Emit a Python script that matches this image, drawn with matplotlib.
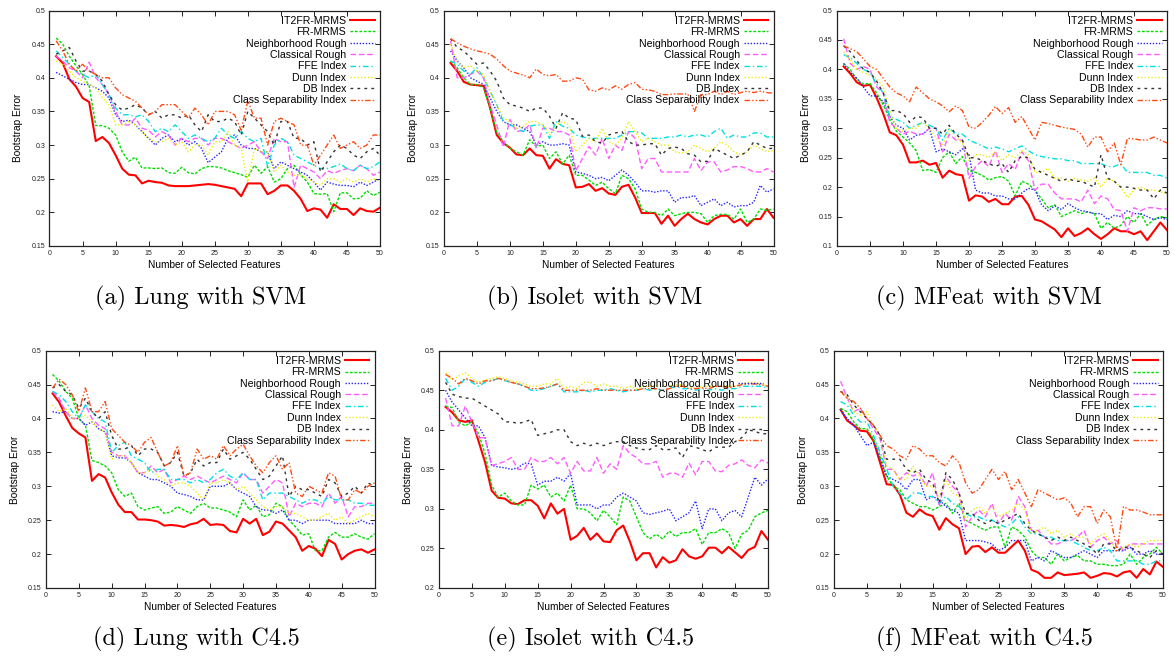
import matplotlib
matplotlib.use("Agg")
import matplotlib.pyplot as plt
from matplotlib.ticker import MultipleLocator, FormatStrFormatter

W, H = 1175, 657

FEATURES = list(range(1, 51))
METHODS = ["IT2FR-MRMS", "FR-MRMS", "Neighborhood Rough", "Classical Rough",
           "FFE Index", "Dunn Index", "DB Index", "Class Separability Index"]

# (a) Lung with SVM
A_IT2FR = [.432, .422, .398, .387, .370, .364, .306, .312, .303, .285, .265, .256, .255, .243, .247, .245, .244, .240, .239, .239,
           .239, .240, .241, .242, .241, .239, .237, .235, .224, .243, .243, .243, .227, .232, .240, .240, .232, .220, .202, .206,
           .204, .192, .212, .205, .205, .196, .206, .202, .201, .207]
A_FR = [.459, .450, .432, .418, .405, .388, .329, .329, .325, .315, .290, .276, .282, .266, .266, .265, .266, .259, .258, .267,
        .259, .257, .265, .268, .268, .266, .262, .259, .256, .252, .270, .258, .268, .245, .250, .265, .270, .256, .245, .228,
        .227, .228, .201, .229, .229, .220, .221, .232, .225, .230]
A_NR = [.408, .403, .398, .393, .390, .390, .385, .380, .370, .345, .335, .337, .330, .320, .310, .300, .310, .315, .305, .310,
        .300, .305, .295, .274, .282, .290, .310, .315, .300, .295, .295, .290, .290, .265, .275, .270, .265, .260, .255, .245,
        .233, .245, .242, .240, .240, .238, .245, .240, .245, .250]
A_CR = [.432, .425, .415, .410, .400, .423, .400, .390, .375, .350, .330, .330, .340, .325, .322, .312, .320, .315, .300, .310,
        .305, .310, .310, .300, .310, .310, .305, .300, .295, .300, .305, .290, .280, .310, .305, .305, .237, .270, .265, .260,
        .250, .262, .258, .262, .265, .262, .270, .265, .255, .260]
A_FFE = [.440, .430, .420, .410, .405, .400, .405, .390, .375, .355, .345, .345, .342, .345, .335, .320, .325, .320, .330, .320,
         .310, .315, .310, .305, .310, .325, .315, .310, .320, .310, .305, .310, .268, .300, .310, .305, .285, .280, .275, .270,
         .265, .265, .268, .272, .265, .262, .270, .265, .268, .275]
A_DUNN = [.425, .420, .410, .400, .395, .390, .385, .370, .360, .330, .330, .335, .330, .320, .310, .305, .305, .310, .300, .305,
          .290, .300, .300, .285, .305, .305, .320, .300, .295, .245, .295, .290, .290, .260, .270, .260, .255, .255, .250, .245,
          .240, .250, .250, .245, .250, .245, .250, .245, .250, .245]
A_DB = [.435, .440, .445, .425, .410, .410, .405, .395, .375, .360, .352, .355, .360, .355, .345, .350, .340, .345, .345, .340,
        .345, .330, .320, .345, .335, .335, .340, .335, .315, .350, .340, .330, .320, .300, .335, .335, .310, .310, .300, .305,
        .260, .275, .290, .300, .295, .285, .280, .290, .295, .285]
A_CSI = [.455, .440, .420, .410, .420, .410, .405, .400, .400, .385, .375, .370, .365, .355, .345, .350, .360, .360, .360, .350,
         .340, .355, .345, .330, .350, .350, .350, .345, .322, .366, .340, .340, .300, .335, .340, .335, .330, .300, .300, .270,
         .285, .300, .315, .295, .300, .305, .295, .300, .315, .315]

# (b) Isolet with SVM
B_IT2FR = [.422, .410, .394, .390, .389, .388, .355, .315, .303, .296, .286, .285, .295, .285, .284, .265, .279, .272, .270, .237,
           .238, .242, .232, .236, .228, .226, .238, .241, .222, .199, .199, .199, .183, .195, .180, .190, .198, .190, .185, .182,
           .190, .195, .195, .185, .190, .180, .190, .190, .205, .192]
B_FR = [.425, .415, .400, .390, .390, .385, .355, .320, .305, .295, .290, .285, .308, .298, .300, .280, .290, .272, .285, .255,
        .255, .248, .240, .245, .235, .228, .255, .250, .235, .205, .200, .200, .195, .205, .195, .198, .200, .200, .198, .185,
        .195, .197, .197, .190, .205, .185, .190, .205, .203, .205]
B_NR = [.440, .425, .415, .400, .395, .390, .370, .350, .335, .330, .330, .325, .320, .300, .305, .300, .300, .302, .300, .260,
        .258, .255, .250, .252, .247, .255, .263, .255, .245, .232, .232, .230, .232, .232, .215, .222, .222, .225, .210, .215,
        .220, .210, .215, .208, .210, .210, .215, .240, .230, .235]
B_CR = [.455, .400, .400, .405, .410, .400, .360, .330, .297, .338, .320, .322, .330, .295, .325, .325, .320, .320, .315, .262,
        .280, .298, .285, .310, .280, .300, .292, .320, .310, .265, .280, .280, .260, .260, .260, .260, .260, .280, .262, .275,
        .275, .260, .263, .268, .268, .265, .260, .260, .265, .260]
B_FFE = [.425, .420, .410, .405, .415, .400, .380, .360, .335, .330, .325, .320, .328, .330, .330, .310, .335, .328, .325, .315,
         .312, .310, .310, .310, .310, .310, .315, .320, .320, .318, .310, .310, .310, .312, .312, .315, .312, .315, .315, .312,
         .320, .325, .310, .315, .312, .312, .318, .318, .312, .312]
B_DUNN = [.450, .425, .415, .418, .410, .405, .380, .360, .340, .335, .325, .328, .335, .335, .330, .315, .330, .335, .330, .290,
          .300, .310, .305, .325, .305, .300, .310, .335, .320, .305, .310, .305, .300, .300, .290, .288, .290, .300, .295, .290,
          .295, .305, .300, .290, .285, .290, .300, .295, .290, .292]
B_DB = [.458, .445, .440, .430, .420, .422, .410, .395, .370, .360, .358, .355, .350, .355, .355, .343, .325, .348, .340, .338,
        .313, .315, .305, .303, .315, .318, .320, .305, .300, .300, .302, .302, .285, .295, .297, .295, .287, .285, .275, .276,
        .295, .290, .285, .280, .285, .290, .305, .300, .295, .295]
B_CSI = [.458, .452, .447, .443, .440, .438, .435, .428, .418, .410, .407, .404, .400, .413, .405, .403, .405, .395, .395, .400,
         .398, .382, .380, .385, .382, .388, .383, .390, .393, .383, .382, .380, .375, .375, .376, .376, .376, .350, .375, .375,
         .380, .375, .380, .375, .378, .380, .378, .380, .378, .377]

# (c) MFeat with SVM
C_IT2FR = [.405, .393, .378, .372, .374, .352, .325, .293, .288, .272, .242, .242, .245, .238, .241, .216, .228, .222, .220, .177,
           .186, .184, .175, .180, .171, .171, .184, .185, .170, .145, .142, .135, .128, .115, .130, .117, .122, .130, .120, .112,
           .120, .130, .125, .125, .120, .125, .110, .125, .140, .127]
C_FR = [.410, .400, .383, .375, .376, .360, .340, .315, .295, .285, .275, .262, .228, .230, .225, .250, .260, .240, .252, .228,
        .225, .220, .212, .216, .218, .210, .185, .210, .205, .195, .180, .165, .170, .150, .155, .160, .155, .158, .155, .130,
        .140, .130, .135, .150, .140, .155, .135, .145, .150, .148]
C_NR = [.410, .395, .385, .370, .355, .355, .345, .320, .305, .300, .280, .288, .290, .300, .260, .265, .260, .255, .265, .255,
        .195, .190, .190, .185, .185, .180, .180, .190, .198, .195, .170, .160, .168, .162, .172, .165, .160, .158, .155, .155,
        .145, .152, .150, .160, .155, .155, .150, .145, .148, .145]
C_CR = [.452, .410, .400, .405, .400, .370, .360, .310, .300, .290, .295, .290, .290, .300, .300, .260, .290, .280, .280, .215,
        .235, .245, .235, .262, .225, .240, .230, .260, .245, .195, .205, .205, .190, .180, .180, .180, .175, .195, .172, .185,
        .180, .162, .160, .125, .165, .160, .165, .165, .163, .163]
C_FFE = [.425, .420, .410, .400, .395, .375, .360, .320, .315, .310, .300, .305, .310, .305, .300, .280, .300, .290, .290, .280,
         .275, .270, .265, .268, .265, .260, .265, .270, .262, .255, .252, .250, .248, .248, .245, .245, .240, .240, .240, .240,
         .235, .235, .240, .225, .225, .225, .225, .220, .220, .215]
C_DUNN = [.430, .415, .400, .395, .390, .385, .370, .330, .300, .295, .300, .300, .310, .300, .285, .270, .300, .285, .275, .245,
          .255, .255, .250, .260, .245, .255, .250, .262, .255, .225, .225, .232, .215, .215, .210, .215, .212, .210, .215, .200,
          .215, .210, .200, .182, .195, .200, .195, .195, .192, .188]
C_DB = [.440, .430, .415, .400, .395, .380, .360, .330, .330, .325, .310, .320, .318, .300, .300, .290, .305, .290, .280, .250,
        .250, .245, .240, .235, .240, .225, .245, .252, .250, .230, .225, .220, .215, .210, .215, .210, .210, .205, .200, .255,
        .215, .210, .200, .200, .198, .195, .195, .180, .195, .190]
C_CSI = [.440, .435, .430, .418, .405, .400, .385, .370, .360, .355, .345, .370, .360, .350, .345, .338, .328, .338, .330, .302,
         .300, .310, .322, .337, .325, .335, .310, .320, .300, .280, .310, .308, .305, .302, .300, .298, .290, .268, .285, .285,
         .260, .275, .238, .283, .282, .280, .280, .285, .280, .275]

# (d) Lung with C4.5
D_IT2FR = [.437, .424, .404, .386, .378, .372, .308, .318, .313, .291, .273, .262, .262, .251, .251, .250, .248, .242, .243, .242,
           .240, .244, .246, .252, .243, .244, .243, .234, .232, .252, .245, .252, .228, .233, .248, .245, .235, .225, .205, .212,
           .208, .197, .221, .215, .192, .200, .205, .207, .202, .207]
D_FR = [.465, .455, .440, .430, .400, .390, .338, .335, .330, .320, .295, .285, .290, .270, .265, .268, .270, .260, .262, .270,
        .265, .260, .270, .275, .268, .268, .265, .262, .255, .280, .265, .272, .255, .258, .275, .270, .250, .240, .228, .230,
        .205, .205, .225, .232, .225, .225, .230, .225, .222, .230]
D_NR = [.410, .408, .410, .400, .400, .390, .395, .385, .380, .345, .342, .342, .335, .320, .315, .310, .310, .305, .300, .290,
        .288, .285, .280, .280, .300, .300, .300, .305, .295, .290, .285, .270, .265, .265, .260, .265, .250, .250, .245, .250,
        .250, .250, .250, .245, .245, .245, .245, .250, .245, .245]
D_CR = [.440, .430, .410, .400, .400, .420, .400, .390, .385, .350, .345, .345, .335, .320, .320, .330, .320, .325, .305, .310,
        .315, .310, .315, .310, .305, .310, .315, .310, .305, .320, .310, .310, .290, .300, .310, .305, .255, .275, .270, .275,
        .275, .270, .290, .275, .285, .255, .270, .270, .275, .275]
D_FFE = [.440, .435, .425, .410, .400, .420, .410, .400, .395, .350, .360, .365, .345, .340, .335, .320, .325, .325, .310, .310,
         .310, .305, .310, .305, .310, .320, .325, .315, .310, .320, .310, .310, .280, .290, .290, .290, .285, .280, .275, .280,
         .280, .275, .285, .280, .280, .280, .275, .275, .272, .272]
D_DUNN = [.420, .410, .415, .400, .400, .405, .395, .385, .380, .340, .345, .345, .335, .320, .320, .325, .315, .310, .300, .305,
          .305, .300, .290, .280, .305, .305, .310, .305, .295, .300, .290, .280, .270, .265, .270, .270, .260, .260, .255, .250,
          .250, .255, .260, .250, .255, .245, .250, .255, .260, .255]
D_DB = [.445, .450, .440, .435, .415, .430, .410, .400, .410, .375, .355, .355, .360, .345, .355, .355, .350, .330, .335, .350,
        .315, .320, .340, .330, .335, .335, .355, .340, .345, .350, .340, .325, .310, .315, .330, .345, .285, .300, .295, .295,
        .290, .285, .310, .305, .285, .290, .300, .290, .305, .300]
D_CSI = [.445, .458, .450, .435, .410, .445, .410, .410, .425, .385, .375, .365, .360, .350, .365, .372, .350, .330, .335, .360,
         .315, .320, .355, .340, .345, .340, .360, .345, .355, .362, .345, .330, .320, .335, .345, .325, .335, .290, .285, .300,
         .295, .290, .320, .315, .280, .280, .295, .290, .300, .305]

# (e) Isolet with C4.5
E_IT2FR = [.429, .422, .412, .410, .412, .386, .359, .323, .314, .313, .307, .306, .311, .311, .304, .288, .307, .294, .300, .261,
           .266, .276, .261, .269, .259, .258, .273, .279, .259, .235, .244, .244, .226, .239, .232, .235, .249, .240, .237, .240,
           .251, .251, .244, .252, .245, .238, .248, .252, .272, .261]
E_FR = [.430, .428, .410, .405, .410, .395, .370, .330, .315, .320, .310, .305, .305, .330, .325, .330, .315, .320, .310, .330,
        .300, .300, .295, .285, .298, .290, .280, .315, .310, .290, .270, .262, .268, .262, .272, .265, .270, .270, .275, .255,
        .270, .270, .275, .270, .250, .268, .273, .290, .295, .298]
E_NR = [.450, .435, .425, .415, .405, .405, .390, .355, .353, .352, .350, .352, .358, .357, .330, .335, .335, .340, .335, .345,
        .305, .305, .305, .300, .305, .305, .315, .320, .315, .310, .295, .293, .295, .297, .300, .285, .290, .295, .310, .275,
        .300, .300, .285, .295, .298, .290, .315, .340, .330, .338]
E_CR = [.440, .405, .405, .430, .410, .390, .390, .355, .357, .360, .365, .350, .350, .365, .360, .360, .365, .357, .365, .345,
        .360, .348, .348, .365, .345, .357, .350, .380, .370, .365, .357, .357, .360, .340, .345, .345, .340, .358, .343, .360,
        .360, .348, .347, .355, .357, .362, .355, .352, .362, .358]
E_FFE = [.465, .450, .455, .465, .460, .455, .460, .462, .465, .462, .460, .458, .455, .450, .450, .452, .455, .458, .448, .448,
         .448, .450, .448, .450, .450, .452, .450, .448, .450, .450, .452, .450, .452, .450, .452, .455, .452, .452, .450, .452,
         .450, .452, .450, .452, .452, .455, .455, .455, .455, .453]
E_DUNN = [.472, .463, .468, .472, .465, .460, .463, .465, .467, .465, .462, .460, .458, .455, .455, .458, .458, .465, .452, .455,
          .452, .460, .460, .455, .458, .455, .455, .452, .455, .452, .455, .455, .455, .458, .455, .457, .457, .455, .452, .455,
          .455, .455, .455, .455, .455, .458, .460, .460, .458, .455]
E_DB = [.460, .445, .442, .440, .440, .435, .430, .425, .420, .410, .410, .408, .410, .413, .393, .395, .397, .400, .400, .385,
        .380, .383, .380, .383, .380, .383, .385, .385, .380, .377, .375, .375, .380, .375, .375, .377, .365, .380, .378, .375,
        .372, .378, .378, .378, .385, .390, .400, .398, .395, .395]
E_CSI = [.470, .465, .458, .465, .462, .458, .462, .462, .465, .463, .460, .458, .455, .452, .452, .453, .455, .458, .450, .450,
         .450, .450, .450, .452, .450, .450, .450, .450, .450, .450, .452, .452, .452, .450, .452, .455, .455, .452, .452, .453,
         .452, .455, .455, .453, .455, .457, .458, .458, .457, .455]

# (f) MFeat with C4.5
F_IT2FR = [.413, .397, .390, .382, .381, .367, .335, .303, .302, .288, .261, .255, .266, .259, .256, .236, .253, .244, .238, .200,
           .211, .212, .203, .210, .202, .202, .211, .220, .205, .177, .173, .165, .165, .173, .169, .170, .171, .173, .165, .168,
           .172, .171, .167, .173, .175, .165, .178, .170, .189, .181]
F_FR = [.415, .410, .395, .385, .385, .370, .345, .315, .300, .295, .280, .275, .270, .270, .265, .270, .275, .260, .275, .250,
        .245, .240, .235, .240, .240, .210, .240, .235, .225, .205, .195, .195, .185, .200, .190, .195, .198, .190, .190, .185,
        .185, .183, .183, .185, .200, .185, .195, .200, .210, .200]
F_NR = [.413, .400, .390, .375, .360, .365, .340, .315, .310, .305, .295, .310, .310, .280, .285, .280, .270, .265, .260, .220,
        .220, .220, .218, .215, .205, .210, .220, .220, .220, .190, .195, .190, .205, .200, .195, .195, .200, .205, .200, .195,
        .205, .205, .205, .205, .210, .200, .200, .205, .200, .200]
F_CR = [.455, .430, .410, .415, .400, .385, .370, .325, .325, .310, .320, .315, .320, .300, .320, .270, .315, .300, .290, .240,
        .255, .265, .255, .275, .245, .260, .250, .285, .270, .235, .235, .225, .215, .215, .220, .220, .225, .235, .210, .220,
        .225, .215, .220, .205, .215, .215, .215, .215, .215, .215]
F_FFE = [.425, .420, .405, .395, .395, .375, .350, .325, .300, .290, .280, .290, .290, .285, .285, .275, .285, .275, .270, .260,
         .255, .255, .250, .250, .245, .240, .245, .255, .240, .230, .230, .225, .225, .220, .220, .220, .215, .210, .205, .205,
         .210, .205, .190, .190, .190, .190, .185, .185, .190, .190]
F_DUNN = [.440, .430, .410, .405, .410, .390, .375, .330, .325, .310, .310, .330, .315, .300, .300, .285, .310, .290, .285, .250,
          .265, .270, .260, .270, .255, .260, .265, .275, .265, .230, .235, .240, .230, .235, .225, .230, .225, .225, .215, .225,
          .230, .220, .205, .210, .215, .210, .215, .220, .220, .220]
F_DB = [.440, .435, .420, .410, .400, .390, .375, .340, .340, .340, .325, .320, .325, .310, .305, .275, .320, .310, .290, .260,
        .260, .250, .245, .250, .245, .250, .255, .260, .245, .235, .230, .225, .220, .225, .220, .225, .220, .215, .210, .200,
        .215, .215, .205, .210, .210, .205, .200, .195, .205, .200]
F_CSI = [.440, .430, .425, .415, .400, .390, .375, .360, .355, .345, .340, .360, .355, .345, .345, .335, .330, .345, .335, .305,
         .290, .295, .310, .325, .310, .322, .295, .310, .290, .270, .295, .290, .285, .280, .283, .275, .255, .270, .270, .245,
         .265, .255, .205, .270, .265, .265, .262, .258, .258, .258]

CAPTIONS = ["(a) Lung with SVM", "(b) Isolet with SVM", "(c) MFeat with SVM",
            "(d) Lung with C4.5", "(e) Isolet with C4.5", "(f) MFeat with C4.5"]
Y_LIMITS = [(0.15, 0.5), (0.15, 0.5), (0.1, 0.5), (0.15, 0.5), (0.2, 0.5), (0.15, 0.5)]

SERIES = [
    [A_IT2FR, A_FR, A_NR, A_CR, A_FFE, A_DUNN, A_DB, A_CSI],
    [B_IT2FR, B_FR, B_NR, B_CR, B_FFE, B_DUNN, B_DB, B_CSI],
    [C_IT2FR, C_FR, C_NR, C_CR, C_FFE, C_DUNN, C_DB, C_CSI],
    [D_IT2FR, D_FR, D_NR, D_CR, D_FFE, D_DUNN, D_DB, D_CSI],
    [E_IT2FR, E_FR, E_NR, E_CR, E_FFE, E_DUNN, E_DB, E_CSI],
    [F_IT2FR, F_FR, F_NR, F_CR, F_FFE, F_DUNN, F_DB, F_CSI],
]

# gnuplot-ish line styles: colour, dash pattern, width
STYLES = [
    ("#ff0000", None, 1.5),
    ("#00dd00", (2, 1.2), 1.0),
    ("#2424ff", (1, 1.2), 1.0),
    ("#ff5cff", (4, 2), 1.0),
    ("#00e0e0", (4, 2, 1, 2), 1.0),
    ("#eeee00", (1, 1.5), 1.0),
    ("#333333", (2, 3), 1.0),
    ("#ff4a12", (4, 1.5, 1, 1.5, 1, 1.5), 1.0),
]

# axes boxes in pixels: left, right, top, bottom
BOXES = [(49.5, 380, 10.5, 246), (444, 773.5, 10.5, 246), (837, 1167, 10.5, 246),
         (46, 374.5, 350.7, 588), (439, 768, 350.7, 588), (834, 1163, 350.7, 588)]
CAPTION_POS = [(201, 298), (595, 298), (989, 298), (196, 639), (591, 639), (984, 639)]

plt.rcParams['font.family'] = ['Liberation Sans', 'DejaVu Sans']

fig = plt.figure(figsize=(W / 100, H / 100), dpi=100)

for i in range(6):
    l, r, t, b = BOXES[i]
    ax = fig.add_axes([l / W, 1 - b / H, (r - l) / W, (b - t) / H])
    for name, ys, (col, dash, lw) in zip(METHODS, SERIES[i], STYLES):
        assert len(ys) == len(FEATURES)
        line, = ax.plot(FEATURES, ys, color=col, lw=lw, label=name)
        if dash is not None:
            line.set_dashes(dash)
    ax.set_xlim(0, 50)
    ax.set_ylim(*Y_LIMITS[i])
    ax.xaxis.set_major_locator(MultipleLocator(5))
    ax.yaxis.set_major_locator(MultipleLocator(0.05))
    ax.yaxis.set_major_formatter(FormatStrFormatter('%g'))
    ax.tick_params(direction='in', length=3.5, width=0.7, top=True, right=True,
                   labelsize=5, pad=3, colors='#222222')
    for s in ax.spines.values():
        s.set_linewidth(0.9)
        s.set_color('#222222')
    ax.set_xlabel("Number of Selected Features", fontsize=7.3, labelpad=2)
    ax.set_ylabel("Bootstrap Error", fontsize=7.3, labelpad=6)
    ax.legend(loc='upper right', frameon=False, markerfirst=False, fontsize=7.6,
              handlelength=2.3, handletextpad=0.4, labelspacing=0.13,
              borderaxespad=0.2, borderpad=0.3)
    cx, cy = CAPTION_POS[i]
    fig.text(cx / W, 1 - cy / H, CAPTIONS[i], ha='center', va='center',
             fontsize=17.5, family='cmr10')

fig.savefig("out.png", dpi=100)
